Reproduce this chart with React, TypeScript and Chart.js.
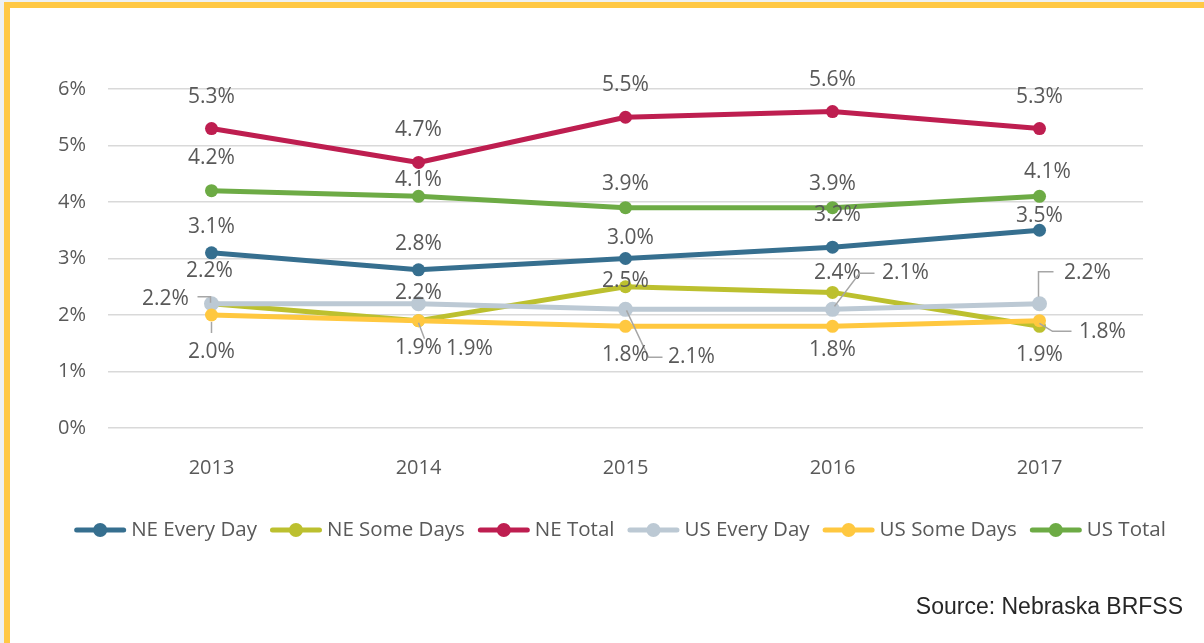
import React, { useEffect, useRef } from 'react';
import { Chart, registerables } from 'chart.js';

Chart.register(...registerables);

// ---- data ----
const years = ['2013', '2014', '2015', '2016', '2017'];
const neEveryDay = [3.1, 2.8, 3.0, 3.2, 3.5];
const neSomeDays = [2.2, 1.9, 2.5, 2.4, 1.8];
const neTotal = [5.3, 4.7, 5.5, 5.6, 5.3];
const usEveryDay = [2.2, 2.2, 2.1, 2.1, 2.2];
const usSomeDays = [2.0, 1.9, 1.8, 1.8, 1.9];
const usTotal = [4.2, 4.1, 3.9, 3.9, 4.1];
const seriesNames = ['NE Every Day', 'NE Some Days', 'NE Total', 'US Every Day', 'US Some Days', 'US Total'];
const seriesValues = [neEveryDay, neSomeDays, neTotal, usEveryDay, usSomeDays, usTotal];
const yMin = 0;
const yMax = 6;
const yStep = 1;
const sourceText = 'Source: Nebraska BRFSS';

// ---- styles ----
const seriesColors = ['#366F8F', '#BCC02F', '#BE1E50', '#BCC9D4', '#FFC840', '#6DAB45'];
const seriesPointRadius = [6.5, 6.5, 6.5, 7.5, 6.5, 6.5];
const FONT = '"Open Sans", "Noto Sans", sans-serif';
const TEXT_COLOR = '#595959';
const LEADER_COLOR = '#a6a6a6';

type Placement = { dx: number; dy: number; leader?: number[][] };
// label offsets relative to each point (pixels)
const labelPlacement: Placement[][] = [
  // NE Every Day
  [{ dx: 0, dy: -26 }, { dx: 0, dy: -26 }, { dx: 5, dy: -20 }, { dx: 5, dy: -32 }, { dx: 0, dy: -14 }],
  // NE Some Days
  [
    { dx: -2, dy: -33 },
    { dx: 0, dy: 27, leader: [[0, 2], [6, 18]] },
    { dx: 0, dy: -6 },
    { dx: 5, dy: -19 },
    { dx: 63, dy: 6, leader: [[0, -3], [13, 5], [32, 5]] },
  ],
  // NE Total
  [{ dx: 0, dy: -32 }, { dx: 0, dy: -32 }, { dx: 0, dy: -32 }, { dx: 0, dy: -32 }, { dx: 0, dy: -32 }],
  // US Every Day
  [
    { dx: -46, dy: -5, leader: [[-14, -7], [-1, -7], [-1, -1]] },
    { dx: 0, dy: -11 },
    { dx: 66, dy: 48, leader: [[1, 1], [23, 48], [37, 48]] },
    { dx: 73, dy: -36, leader: [[2, -3], [27, -36], [42, -36]] },
    { dx: 48, dy: -31, leader: [[-1, -7], [-1, -32], [14, -32]] },
  ],
  // US Some Days
  [
    { dx: 0, dy: 37, leader: [[0, 7], [0, 18]] },
    { dx: 51, dy: 28 },
    { dx: 0, dy: 29 },
    { dx: 0, dy: 24 },
    { dx: 0, dy: 34 },
  ],
  // US Total
  [{ dx: 0, dy: -33 }, { dx: 0, dy: -16 }, { dx: 0, dy: -24 }, { dx: 0, dy: -24 }, { dx: 8, dy: -24 }],
];

const CANVAS_W = 1194;
const CANVAS_H = 635;

const pointLabelPlugin = {
  id: 'pointLabels',
  afterDatasetsDraw(chart: any) {
    const ctx = chart.ctx;
    ctx.save();
    chart.data.datasets.forEach((ds: any, di: number) => {
      const meta = chart.getDatasetMeta(di);
      meta.data.forEach((pt: any, i: number) => {
        const pl = labelPlacement[di][i];
        const x = pt.x;
        const y = pt.y;
        if (pl.leader) {
          ctx.strokeStyle = LEADER_COLOR;
          ctx.lineWidth = 1.5;
          ctx.beginPath();
          pl.leader.forEach(([lx, ly], k) => {
            if (k === 0) ctx.moveTo(x + lx, y + ly);
            else ctx.lineTo(x + lx, y + ly);
          });
          ctx.stroke();
        }
        ctx.fillStyle = TEXT_COLOR;
        ctx.font = `21px ${FONT}`;
        ctx.textAlign = 'center';
        ctx.textBaseline = 'middle';
        ctx.fillText(Number(ds.data[i]).toFixed(1) + '%', x + pl.dx, y + pl.dy);
      });
    });
    ctx.restore();
  },
};

const legendSourcePlugin = {
  id: 'legendSource',
  afterDraw(chart: any) {
    const ctx = chart.ctx;
    ctx.save();
    ctx.font = `20.5px ${FONT}`;
    const lineLen = 52;
    const gapText = 5;
    const gapItem = 13;
    const legendCenterX = 610;
    const legendY = 522;
    const widths = seriesNames.map((n) => lineLen + gapText + ctx.measureText(n).width);
    const total = widths.reduce((a, b) => a + b, 0) + gapItem * (seriesNames.length - 1);
    let x = legendCenterX - total / 2;
    seriesNames.forEach((name, i) => {
      ctx.strokeStyle = seriesColors[i];
      ctx.lineWidth = 5;
      ctx.lineCap = 'round';
      ctx.beginPath();
      ctx.moveTo(x + 2.5, legendY);
      ctx.lineTo(x + lineLen - 2.5, legendY);
      ctx.stroke();
      ctx.fillStyle = seriesColors[i];
      ctx.beginPath();
      ctx.arc(x + lineLen / 2, legendY, 7, 0, Math.PI * 2);
      ctx.fill();
      ctx.fillStyle = TEXT_COLOR;
      ctx.textAlign = 'left';
      ctx.textBaseline = 'middle';
      ctx.fillText(name, x + lineLen + gapText, legendY);
      x += widths[i] + gapItem;
    });
    ctx.font = '23px "Liberation Sans", Arial, sans-serif';
    ctx.fillStyle = '#262626';
    ctx.textAlign = 'right';
    ctx.textBaseline = 'middle';
    ctx.fillText(sourceText, 1173, 600);
    ctx.restore();
  },
};

export default function App() {
  const canvasRef = useRef<HTMLCanvasElement | null>(null);

  useEffect(() => {
    if (!canvasRef.current) return;
    const chart = new Chart(canvasRef.current, {
      type: 'line',
      data: {
        labels: years,
        datasets: seriesNames.map((name, i) => ({
          label: name,
          data: seriesValues[i],
          borderColor: seriesColors[i],
          backgroundColor: seriesColors[i],
          pointBackgroundColor: seriesColors[i],
          pointBorderWidth: 0,
          pointRadius: seriesPointRadius[i],
          pointHoverRadius: seriesPointRadius[i],
          borderWidth: 5,
          borderCapStyle: 'round',
          borderJoinStyle: 'round',
          tension: 0,
          fill: false,
          order: seriesNames.length - 1 - i,
        })),
      },
      options: {
        animation: false,
        responsive: false,
        maintainAspectRatio: false,
        layout: { padding: { top: 81, right: 61, bottom: 155, left: 0 } },
        plugins: { legend: { display: false }, tooltip: { enabled: false } },
        scales: {
          x: {
            offset: true,
            grid: { display: false },
            border: { display: false },
            ticks: { color: TEXT_COLOR, font: { family: FONT, size: 20 }, padding: 20 },
            afterFit: (s: any) => {
              s.height = 60;
            },
          },
          y: {
            min: yMin,
            max: yMax,
            ticks: {
              stepSize: yStep,
              color: TEXT_COLOR,
              font: { family: FONT, size: 20 },
              padding: 22,
              callback: (v: any) => v + '%',
            },
            grid: { color: '#d9d9d9', lineWidth: 1.5, drawTicks: false },
            border: { display: false },
            afterFit: (s: any) => {
              s.width = 98;
            },
          },
        },
      } as any,
      plugins: [pointLabelPlugin, legendSourcePlugin],
    });
    return () => chart.destroy();
  }, []);

  return (
    <div
      style={{
        position: 'absolute',
        left: 0,
        top: 0,
        width: 1204,
        height: 643,
        background: '#edf0f2',
        overflow: 'hidden',
      }}
    >
      <div
        style={{
          position: 'absolute',
          left: 4,
          top: 2,
          width: 1210,
          height: 650,
          background: '#ffffff',
          borderLeft: '6px solid #ffc844',
          borderTop: '6px solid #ffc844',
        }}
      />
      <canvas
        ref={canvasRef}
        width={CANVAS_W}
        height={CANVAS_H}
        style={{ position: 'absolute', left: 10, top: 8, width: CANVAS_W, height: CANVAS_H }}
      />
    </div>
  );
}
